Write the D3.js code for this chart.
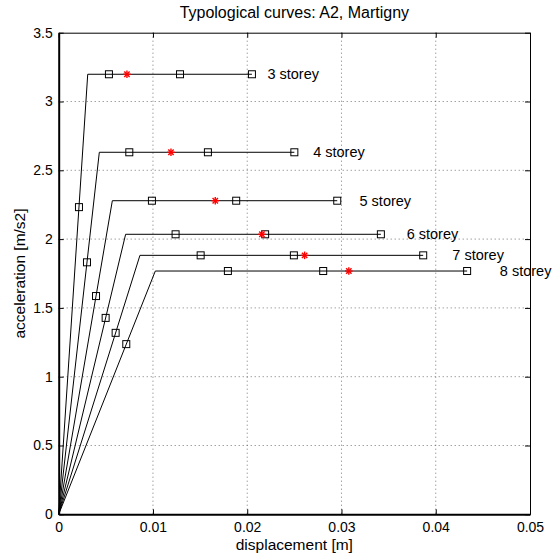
<!DOCTYPE html>
<html><head><meta charset="utf-8">
<script src="https://cdn.jsdelivr.net/npm/d3@7"></script>
<style>body{margin:0;background:#fff}svg{display:block}text{font-family:"Liberation Sans",Arial,sans-serif;fill:#000}</style>
</head><body><svg id="c" width="557" height="560"></svg>
<script>
const storeys = ["3 storey","4 storey","5 storey","6 storey","7 storey","8 storey"];
const yieldAcc = [3.198, 2.631, 2.279, 2.035, 1.882, 1.768];
const yieldDisp = [0.00308, 0.00431, 0.00569, 0.0071, 0.00862, 0.01025];
const ultDisp = [0.0205, 0.0250, 0.02955, 0.03418, 0.03867, 0.04333];
const elasticSqDisp = [0.00215, 0.0030, 0.00396, 0.00498, 0.00604, 0.00717];
const plateauSq1 = [0.00533, 0.00749, 0.00989, 0.0124, 0.01506, 0.01795];
const plateauSq2 = [0.01287, 0.01583, 0.01883, 0.0219, 0.02495, 0.02806];
const starDisp = [0.00724, 0.01191, 0.01661, 0.02156, 0.02609, 0.03078];
const xTicks = [0, 0.01, 0.02, 0.03, 0.04, 0.05];
const yTicks = [0, 0.5, 1, 1.5, 2, 2.5, 3, 3.5];

const svg = d3.select("#c");
const L = 58.7, R = 530, T = 32.7, B = 514.3;
const x = d3.scaleLinear().domain([0, 0.05]).range([L, R]);
const y = d3.scaleLinear().domain([0, 3.5]).range([B, T]);

// grid
const g = svg.append("g");
xTicks.slice(1, -1).forEach(t => g.append("line").attr("x1", x(t)).attr("x2", x(t)).attr("y1", T).attr("y2", B)
  .attr("stroke", "#555").attr("stroke-width", 0.8).attr("stroke-dasharray", "1,3"));
yTicks.slice(1, -1).forEach(t => g.append("line").attr("x1", L).attr("x2", R).attr("y1", y(t)).attr("y2", y(t))
  .attr("stroke", "#555").attr("stroke-width", 0.8).attr("stroke-dasharray", "1,3"));

// axes
const fmt = d => d === 0 ? "0" : String(d);
const xa = svg.append("g").attr("transform", `translate(0,${B})`)
  .call(d3.axisBottom(x).tickValues(xTicks).tickFormat(fmt).tickSizeInner(-5).tickSizeOuter(0).tickPadding(8));
const xt = svg.append("g").attr("transform", `translate(0,${T})`)
  .call(d3.axisTop(x).tickValues(xTicks).tickFormat("").tickSizeInner(-5).tickSizeOuter(0));
const ya = svg.append("g").attr("transform", `translate(${L},0)`)
  .call(d3.axisLeft(y).tickValues(yTicks).tickFormat(fmt).tickSizeInner(-5).tickSizeOuter(0).tickPadding(6));
const yr = svg.append("g").attr("transform", `translate(${R},0)`)
  .call(d3.axisRight(y).tickValues(yTicks).tickFormat("").tickSizeInner(-5).tickSizeOuter(0));
[xa, xt, ya, yr].forEach(a => { a.selectAll("text").style("font-size", "14px").attr("fill", "#000");
  a.selectAll("line").attr("stroke", "#000"); a.select(".domain").attr("stroke", "#000"); });
xa.select(".domain").attr("stroke-width", 2);
ya.select(".domain").attr("stroke-width", 2);

// curves
const line = d3.line().x(d => x(d[0])).y(d => y(d[1]));
storeys.forEach((s, i) => {
  const pts = [[0, 0], [yieldDisp[i], yieldAcc[i]], [ultDisp[i], yieldAcc[i]]];
  svg.append("path").attr("d", line(pts)).attr("fill", "none").attr("stroke", "#000").attr("stroke-width", 1);
  const ea = yieldAcc[i] * elasticSqDisp[i] / yieldDisp[i];
  const sq = [[elasticSqDisp[i], ea], [plateauSq1[i], yieldAcc[i]], [plateauSq2[i], yieldAcc[i]], [ultDisp[i], yieldAcc[i]]];
  sq.forEach(p => svg.append("rect").attr("x", x(p[0]) - 3.5).attr("y", y(p[1]) - 3.5).attr("width", 7).attr("height", 7)
    .attr("fill", "none").attr("stroke", "#000").attr("stroke-width", 1));
  const sx = x(starDisp[i]), sy = y(yieldAcc[i]);
  const st = svg.append("g").attr("transform", `translate(${sx},${sy})`);
  [0, 45, 90, 135].forEach(a => st.append("line").attr("x1", -3.8).attr("x2", 3.8).attr("y1", 0).attr("y2", 0)
    .attr("transform", `rotate(${a})`).attr("stroke", "#f00").attr("stroke-width", 1.4));
  svg.append("text").attr("x", x(ultDisp[i] * 1.08)).attr("y", y(yieldAcc[i])).attr("dy", "0.35em")
    .style("font-size", "14.5px").text(s);
});

svg.append("text").attr("x", (L + R) / 2).attr("y", 18).attr("text-anchor", "middle").style("font-size", "16px")
  .text("Typological curves: A2, Martigny");
svg.append("text").attr("x", (L + R) / 2).attr("y", 549.5).attr("text-anchor", "middle").style("font-size", "15.5px")
  .text("displacement [m]");
svg.append("text").attr("transform", `translate(25,${(T + B) / 2}) rotate(-90)`).attr("text-anchor", "middle")
  .style("font-size", "15.5px").text("acceleration [m/s2]");
</script></body></html>
